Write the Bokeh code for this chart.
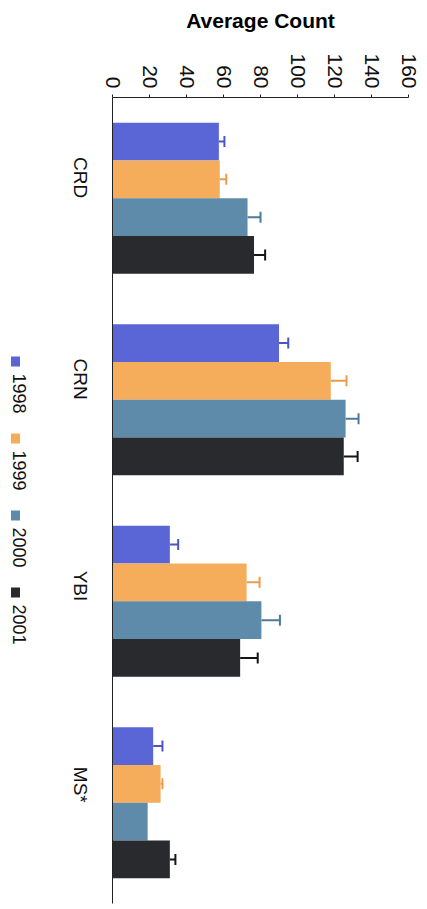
import math
from bokeh.plotting import figure
from bokeh.layouts import row
from bokeh.models import (ColumnDataSource, FactorRange, Range1d, Whisker, TeeHead, FixedTicker)
from bokeh.core.properties import value
from bokeh.transform import dodge
from bokeh.embed import file_html
from bokeh.resources import INLINE

categories = ["CRD", "CRN", "YBI", "MS*"]
years = ["1998", "1999", "2000", "2001"]
v1998 = [57.5, 90, 31, 22]
v1999 = [58, 118, 72.5, 26]
v2000 = [73, 126, 80.5, 19]
v2001 = [76.5, 125, 69, 31]
e1998 = [3, 5, 4.5, 5]
e1999 = [3.5, 8.5, 7, 1]
e2000 = [7, 7, 10, float("nan")]
e2001 = [6, 7.5, 9.5, 3]
x_ticks = [0, 20, 40, 60, 80, 100, 120, 140, 160]

values = [v1998, v1999, v2000, v2001]
errors = [e1998, e1999, e2000, e2001]
bar_colors = ["#5a65d6", "#f5ad5b", "#5e8ba9", "#292a2e"]
err_colors = ["#4b56c4", "#e99d4c", "#4d7a98", "#151515"]
offsets = [0.28125, 0.09375, -0.09375, -0.28125]
FONT = "Liberation Sans"
LEG_W = 40
TOP, BOTTOM = 97, 6

p = figure(width=427 - LEG_W, height=909, output_backend="svg", toolbar_location=None,
           y_range=FactorRange(factors=list(reversed(categories)), range_padding=0),
           x_range=Range1d(0, 160), x_axis_location="above",
           min_border_left=112 - LEG_W, min_border_right=19, min_border_top=TOP,
           min_border_bottom=BOTTOM)
p.outline_line_color = None
p.xgrid.visible = False
p.ygrid.visible = False

for vals, errs, bc, ec, off in zip(values, errors, bar_colors, err_colors, offsets):
    src = ColumnDataSource(dict(cat=categories, val=vals,
                                hi=[v + e for v, e in zip(vals, errs)]))
    p.hbar(y=dodge("cat", off, range=p.y_range), right="val", left=0, height=0.1875,
           source=src, fill_color=bc, line_color=None)
    w = Whisker(source=src, base=dodge("cat", off, range=p.y_range), lower="val", upper="hi",
                dimension="width", line_color=ec, line_width=2,
                upper_head=TeeHead(size=11, line_color=ec, line_width=2), lower_head=None)
    p.add_layout(w)

xa = p.xaxis[0]
xa.ticker = FixedTicker(ticks=x_ticks)
xa.axis_label = "Average Count"
xa.axis_label_text_font = FONT
xa.axis_label_text_font_style = "bold"
xa.axis_label_text_font_size = "21px"
xa.axis_label_text_color = "#000000"
xa.axis_label_standoff = 18
xa.major_label_orientation = -math.pi / 2
xa.major_label_text_font = FONT
xa.major_label_text_font_size = "21px"
xa.major_label_text_color = "#111111"
xa.major_label_standoff = 6
xa.major_tick_out = 3
xa.major_tick_in = 0
xa.minor_tick_out = 0
xa.minor_tick_in = 0
xa.axis_line_color = "#222222"
xa.major_tick_line_color = "#222222"

ya = p.yaxis[0]
ya.major_label_orientation = -math.pi / 2
ya.major_label_text_font = FONT
ya.major_label_text_font_size = "19px"
ya.major_label_text_color = "#111111"
ya.major_label_standoff = 32
ya.major_tick_out = 0
ya.major_tick_in = 0
ya.axis_line_color = "#222222"

# rotated legend in a narrow strip to the left; its frame is aligned with the main
# frame (rows align frames), so the range maps 1:1 onto page pixels
leg = figure(width=LEG_W, height=909, output_backend="svg", toolbar_location=None,
             x_range=Range1d(0, LEG_W), y_range=Range1d(909 - BOTTOM, TOP),
             min_border=0, min_border_left=0, min_border_right=0,
             min_border_top=TOP, min_border_bottom=BOTTOM)
leg.axis.visible = False
leg.grid.visible = False
leg.outline_line_color = None
leg_top = [356, 433, 510, 587]
leg_src = ColumnDataSource(dict(
    year=years, color=bar_colors,
    sq_x=[15] * 4, sq_y=[t + 5 for t in leg_top],
    tx=[19] * 4, ty=[t + 17 for t in leg_top]))
leg.rect(x="sq_x", y="sq_y", width=9, height=10, fill_color="color", line_color=None,
         source=leg_src)
leg.text(x="tx", y="ty", text="year", angle=-math.pi / 2, text_align="left",
         text_baseline="middle", text_font=value(FONT), text_font_size="18px",
         text_color="#111111", source=leg_src)

layout = row(leg, p)
open("out.html", "w").write(file_html(layout, INLINE))
